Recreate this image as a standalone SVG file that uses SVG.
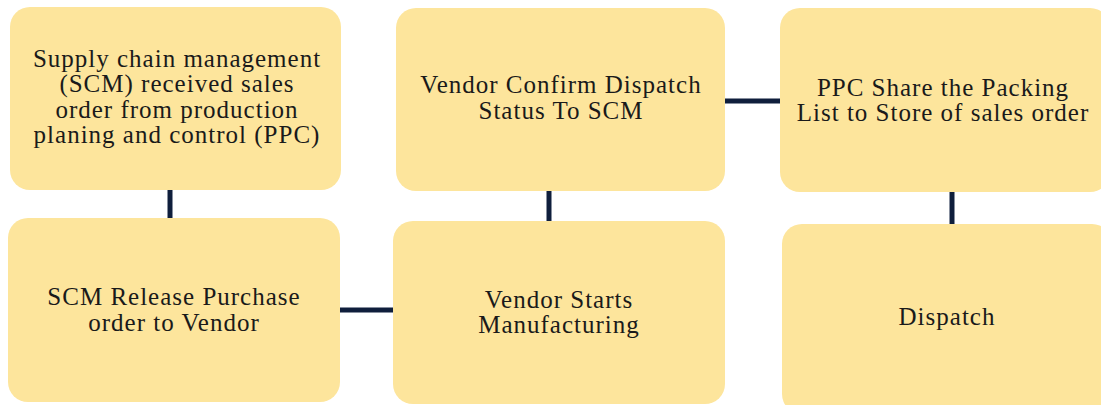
<svg xmlns="http://www.w3.org/2000/svg" width="1101" height="405" viewBox="0 0 1101 405">
<style>
.box{fill:#FDE59C;}
.t{font-family:"Liberation Serif","Times New Roman",serif;font-size:25px;letter-spacing:1px;fill:#1a1a1a;text-anchor:middle;}
.c{stroke:#0F1E3C;stroke-width:5;fill:none;}
</style>
<rect width="1101" height="405" fill="#FFFFFF"/>
<g id="connectors">
<line class="c" x1="170" y1="188" x2="170" y2="220"/>
<line class="c" x1="338" y1="310" x2="396" y2="310"/>
<line class="c" x1="549" y1="189" x2="549" y2="223"/>
<line class="c" x1="723" y1="101" x2="782" y2="101"/>
<line class="c" x1="952" y1="190" x2="952" y2="226"/>
</g>
<g id="n1">
<rect class="box" x="10" y="7" width="331" height="183" rx="20"/>
<text class="t"><tspan x="177" y="67">Supply chain management</tspan><tspan x="177" y="92">(SCM) received sales</tspan><tspan x="177" y="118">order from production</tspan><tspan x="177" y="143">planing and control (PPC)</tspan></text>
</g>
<g id="n2">
<rect class="box" x="396" y="8" width="329" height="183" rx="20"/>
<text class="t"><tspan x="561" y="93">Vendor Confirm Dispatch</tspan><tspan x="561" y="119">Status To SCM</tspan></text>
</g>
<g id="n3">
<rect class="box" x="780" y="8" width="330" height="184" rx="20"/>
<text class="t"><tspan x="943" y="96">PPC Share the Packing</tspan><tspan x="943" y="121">List to Store of sales order</tspan></text>
</g>
<g id="n4">
<rect class="box" x="8" y="218" width="332" height="184" rx="20"/>
<text class="t"><tspan x="174" y="305">SCM Release Purchase</tspan><tspan x="174" y="331">order to Vendor</tspan></text>
</g>
<g id="n5">
<rect class="box" x="393" y="221" width="332" height="183" rx="20"/>
<text class="t"><tspan x="559" y="308">Vendor Starts</tspan><tspan x="559" y="333">Manufacturing</tspan></text>
</g>
<g id="n6">
<rect class="box" x="782" y="224" width="330" height="190" rx="20"/>
<text class="t"><tspan x="947" y="325">Dispatch</tspan></text>
</g>
</svg>
